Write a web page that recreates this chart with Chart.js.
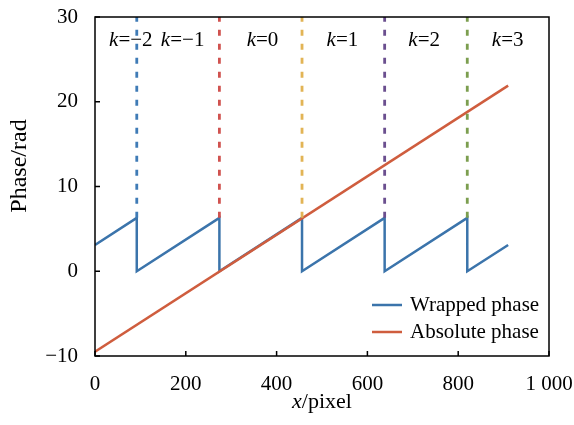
<!DOCTYPE html>
<html>
<head>
<meta charset="utf-8">
<script src="https://cdn.jsdelivr.net/npm/chart.js@4/dist/chart.umd.min.js"></script>
<style>
    html, body { margin: 0; padding: 0; background: #fff; }
    #wrap { width: 574px; height: 425px; }
</style>
</head>
<body>
<div id="wrap"><canvas id="phaseChart" width="574" height="425"></canvas></div>
<script>
// wrapped phase vertices (x in pixel, phase in rad)
const wrappedX = [0, 92, 92, 274, 274, 456, 456, 638, 638, 820, 820, 910];
const wrappedY = [3.1, 6.3, 0, 6.3, 0, 6.3, 0, 6.3, 0, 6.3, 0, 3.1];

// absolute phase end points
const absoluteX = [0, 910];
const absoluteY = [-9.5, 21.9];

// period boundaries (dashed lines), from the wrapped peak up to the top
const boundaryX = [92, 274, 456, 638, 820];
const boundaryFrom = [6.3, 6.3, 6.3, 6.3, 6.3];
const boundaryTo = [30, 30, 30, 30, 30];
const boundaryColors = ["#3f7bb6", "#d0524f", "#e2b455", "#6b4f8f", "#7c9e4f"];

// fringe order labels
const kValues = ["\u22122", "\u22121", "0", "1", "2", "3"];
const kLabelX = [79, 193, 369, 545, 725, 909];
const kLabelY = 27.2;

const font = "'Liberation Serif', 'Times New Roman', serif";

const toPoints = (xs, ys) => xs.map((x, i) => ({ x: x, y: ys[i] }));

const datasets = [];
boundaryX.forEach((bx, i) => {
    datasets.push({
        label: "boundary" + i,
        data: [{ x: bx, y: boundaryFrom[i] }, { x: bx, y: boundaryTo[i] }],
        borderColor: boundaryColors[i],
        borderWidth: 2.8,
        borderDash: [6, 8],
        pointRadius: 0
    });
});
datasets.push({
    label: "Absolute phase",
    data: toPoints(absoluteX, absoluteY),
    borderColor: "#cf5d3e",
    borderWidth: 2.5,
    pointRadius: 0
});
datasets.push({
    label: "Wrapped phase",
    data: toPoints(wrappedX, wrappedY),
    borderColor: "#3b74ab",
    borderWidth: 2.5,
    pointRadius: 0
});

// frame, inward ticks, k labels, axis titles and legend
const decorations = {
    id: "decorations",
    afterDatasetsDraw(chart) {
        const ctx = chart.ctx;
        const area = chart.chartArea;
        const xs = chart.scales.x;
        const ys = chart.scales.y;
        ctx.save();

        ctx.strokeStyle = "#000";
        ctx.lineWidth = 1.5;
        ctx.strokeRect(area.left, area.top, area.right - area.left, area.bottom - area.top);

        ctx.beginPath();
        xs.ticks.forEach(t => {
            const px = xs.getPixelForValue(t.value);
            ctx.moveTo(px, area.bottom);
            ctx.lineTo(px, area.bottom - 5);
        });
        ys.ticks.forEach(t => {
            const py = ys.getPixelForValue(t.value);
            ctx.moveTo(area.left, py);
            ctx.lineTo(area.left + 5, py);
        });
        ctx.stroke();

        // k labels
        ctx.fillStyle = "#000";
        ctx.textBaseline = "middle";
        ctx.textAlign = "left";
        kValues.forEach((v, i) => {
            const italic = "italic 21px " + font;
            const normal = "21px " + font;
            ctx.font = italic;
            const wk = ctx.measureText("k").width;
            ctx.font = normal;
            const wr = ctx.measureText("=" + v).width;
            const cx = xs.getPixelForValue(kLabelX[i]);
            const cy = ys.getPixelForValue(kLabelY);
            const x0 = cx - (wk + wr) / 2;
            ctx.font = italic;
            ctx.fillText("k", x0, cy);
            ctx.font = normal;
            ctx.fillText("=" + v, x0 + wk, cy);
        });

        // x axis title
        const italic = "italic 22px " + font;
        const normal = "22px " + font;
        ctx.font = italic;
        const w1 = ctx.measureText("x").width;
        ctx.font = normal;
        const w2 = ctx.measureText("/pixel").width;
        const tx = (area.left + area.right) / 2 - (w1 + w2) / 2;
        ctx.font = italic;
        ctx.fillText("x", tx, 402);
        ctx.font = normal;
        ctx.fillText("/pixel", tx + w1, 402);

        // y axis title
        ctx.save();
        ctx.translate(20, 166);
        ctx.rotate(-Math.PI / 2);
        ctx.textAlign = "center";
        ctx.font = "24px " + font;
        ctx.fillText("Phase/rad", 0, 0);
        ctx.restore();

        // legend
        const items = [chart.data.datasets[datasets.length - 1], chart.data.datasets[datasets.length - 2]];
        ctx.font = "21px " + font;
        items.forEach((ds, i) => {
            const ly = area.bottom - 51 + i * 27;
            const lx = area.right - 177;
            ctx.strokeStyle = ds.borderColor;
            ctx.lineWidth = 2.5;
            ctx.beginPath();
            ctx.moveTo(lx, ly);
            ctx.lineTo(lx + 30, ly);
            ctx.stroke();
            ctx.fillStyle = "#000";
            ctx.fillText(ds.label, lx + 38, ly);
        });

        ctx.restore();
    }
};

new Chart(document.getElementById("phaseChart"), {
    type: "line",
    data: { datasets: datasets },
    options: {
        responsive: false,
        animation: false,
        layout: { padding: { top: 17, right: 25, left: 0, bottom: 0 } },
        plugins: {
            legend: { display: false },
            tooltip: { enabled: false }
        },
        scales: {
            x: {
                type: "linear",
                min: 0,
                max: 1000,
                ticks: {
                    stepSize: 200,
                    color: "#000",
                    padding: 16,
                    font: { family: font, size: 21 },
                    callback: v => v >= 1000 ? String(v).replace(/(\d)(\d{3})$/, "$1 $2") : String(v)
                },
                grid: { display: false, drawTicks: false },
                border: { display: false },
                afterFit: s => { s.height = 69; s.paddingLeft = 0; s.paddingRight = 0; }
            },
            y: {
                min: -10,
                max: 30,
                ticks: {
                    stepSize: 10,
                    color: "#000",
                    padding: 17,
                    font: { family: font, size: 21 },
                    callback: v => String(v).replace("-", "\u2212")
                },
                grid: { display: false, drawTicks: false },
                border: { display: false },
                afterFit: s => { s.width = 95; s.paddingTop = 0; s.paddingBottom = 0; }
            }
        }
    },
    plugins: [decorations]
});
</script>
</body>
</html>
